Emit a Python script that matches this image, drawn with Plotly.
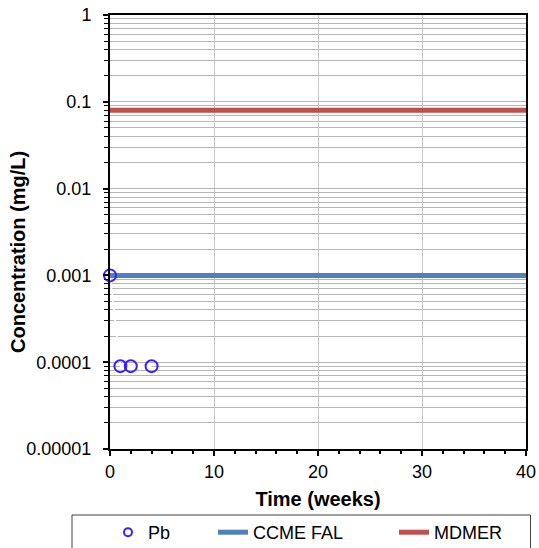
import plotly.graph_objects as go

# Data
pb_weeks = [0, 1, 2, 4]
pb_conc = [0.001, 0.00009, 0.00009, 0.00009]
guide_weeks = [0, 40]
ccme_fal = [0.001, 0.001]
mdmer = [0.08, 0.08]
ytick_vals = [0.00001, 0.0001, 0.001, 0.01, 0.1, 1]
ytick_text = ["0.00001", "0.0001", "0.001", "0.01", "0.1", "1"]

FONT = "Liberation Sans, Arial, sans-serif"
W, H = 539, 548
L, R, T, B = 110, 13, 15, 99
PW, PH = W - L - R, H - T - B

def px_x(p):
    return (p - L) / PW

def px_y(p):
    return (H - B - p) / PH

fig = go.Figure()

# faint white connector of Pb series (hides grid)
fig.add_trace(go.Scatter(x=pb_weeks, y=pb_conc, mode="lines",
                         line=dict(color="white", width=1.5),
                         showlegend=False, hoverinfo="skip"))
fig.add_trace(go.Scatter(x=guide_weeks, y=ccme_fal, mode="lines", name="CCME FAL",
                         line=dict(color="#4F81BD", width=5), legend="legend2"))
fig.add_trace(go.Scatter(x=guide_weeks, y=mdmer, mode="lines", name="MDMER",
                         line=dict(color="#C0504D", width=5), legend="legend3"))
fig.add_trace(go.Scatter(x=pb_weeks, y=pb_conc, mode="markers", name="Pb",
                         marker=dict(symbol="circle-open", size=12, color="#3A1EFF",
                                     line=dict(width=2, color="#3A1EFF")),
                         showlegend=False, cliponaxis=False))
# legend proxy for Pb (smaller symbol as in reference)
fig.add_trace(go.Scatter(x=[None], y=[None], mode="markers", name="Pb",
                         marker=dict(symbol="circle-open", size=8, color="#3A1EFF",
                                     line=dict(width=2, color="#3A1EFF")),
                         legend="legend"))

leg_common = dict(orientation="h", yanchor="middle", xanchor="left",
                  font=dict(family=FONT, size=18, color="black"),
                  bgcolor="rgba(0,0,0,0)", borderwidth=0)

fig.update_layout(
    width=W, height=H,
    margin=dict(l=L, r=R, t=T, b=B, autoexpand=False),
    paper_bgcolor="white", plot_bgcolor="white",
    font=dict(family=FONT, size=18, color="black"),
    legend=dict(x=px_x(108), y=px_y(532.5), **leg_common),
    legend2=dict(x=px_x(213), y=px_y(532.5), **leg_common),
    legend3=dict(x=px_x(394), y=px_y(532.5), **leg_common),
    xaxis=dict(
        range=[0, 40], dtick=10, tick0=0,
        showline=True, linecolor="black", linewidth=2, mirror=True,
        ticks="outside", ticklen=5, tickwidth=1.5, tickcolor="black",
        showgrid=True, gridcolor="#C4C4C4", gridwidth=1.3,
        zeroline=False, automargin=False,
        minor=dict(dtick=2, ticks="outside", ticklen=3, tickwidth=1.5,
                   tickcolor="black", showgrid=False),
        tickfont=dict(family=FONT, size=18, color="black"),
        title=dict(text="<b>Time (weeks)</b>", font=dict(family=FONT, size=20, color="black"),
                   standoff=11),
    ),
    yaxis=dict(
        type="log", range=[-5, 0],
        tickmode="array", tickvals=ytick_vals, ticktext=ytick_text,
        showline=True, linecolor="black", linewidth=2, mirror=True,
        ticks="outside", ticklen=5, tickwidth=1.5, tickcolor="black",
        showgrid=True, gridcolor="#B6B6B6", gridwidth=1.3,
        zeroline=False, automargin=False,
        minor=dict(dtick="D1", ticks="outside", ticklen=4, tickwidth=1,
                   tickcolor="black", showgrid=True, gridcolor="#B6B6B6", gridwidth=1.3),
        tickfont=dict(family=FONT, size=18, color="black"),
        ticklabelstandoff=8,
    ),
    annotations=[dict(text="<b>Concentration (mg/L)</b>", xref="paper", yref="paper",
                      x=px_x(18), y=px_y(252), xanchor="center", yanchor="middle",
                      textangle=-90, showarrow=False,
                      font=dict(family=FONT, size=20, color="black"))],
    shapes=[dict(type="rect", xref="paper", yref="paper",
                 x0=px_x(72), x1=px_x(530.5), y0=px_y(556), y1=px_y(515),
                 line=dict(color="#404040", width=1), fillcolor="rgba(0,0,0,0)",
                 layer="above")],
)

fig.write_html("out.html", config={"displayModeBar": False},
               post_script="document.body.style.margin='0';")
